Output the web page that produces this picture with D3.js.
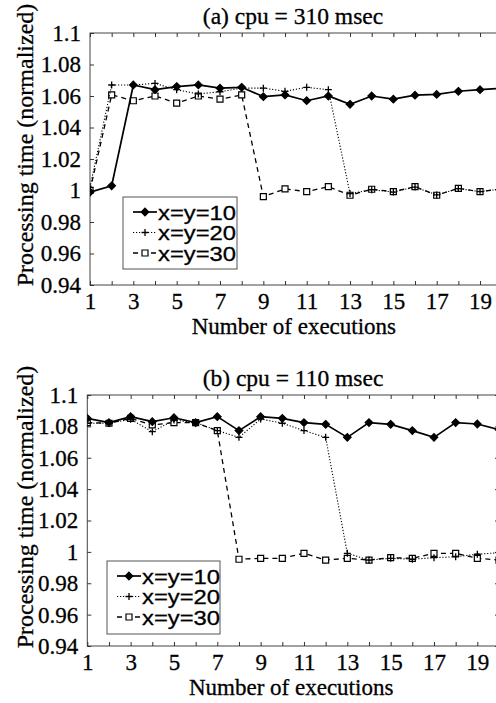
<!DOCTYPE html>
<html>
<head>
<meta charset="utf-8">
<script src="https://cdn.jsdelivr.net/npm/d3@7"></script>
<style>
  html, body { margin: 0; padding: 0; background: #fff; }
  svg { display: block; }
</style>
</head>
<body>
<div id="chart"></div>
<script>
// x axis: execution number
const executions = [1, 2, 3, 4, 5, 6, 7, 8, 9, 10, 11, 12, 13, 14, 15, 16, 17, 18, 19, 20];
const xTickLabels = ['1', '', '3', '', '5', '', '7', '', '9', '', '11', '', '13', '', '15', '', '17', '', '19', ''];
const yTicks = [0.94, 0.96, 0.98, 1, 1.02, 1.04, 1.06, 1.08, 1.1];
const yTickLabels = ['0.94', '0.96', '0.98', '1', '1.02', '1.04', '1.06', '1.08', '1.1'];
const seriesNames = ['x=y=10', 'x=y=20', 'x=y=30'];

// (a) cpu = 310 msec
const cpu310_xy10 = [0.999, 1.003, 1.067, 1.064, 1.066, 1.067, 1.065, 1.0655, 1.0596, 1.0607, 1.057, 1.060, 1.0547, 1.060, 1.058, 1.0605, 1.061, 1.063, 1.064, 1.065];
const cpu310_xy20 = [1.002, 1.067, 1.067, 1.068, 1.064, 1.0613, 1.0627, 1.065, 1.065, 1.063, 1.0655, 1.064, 0.998, 1.0005, 0.999, 1.0022, 0.9972, 1.0012, 0.9993, 1.001];
const cpu310_xy30 = [1.000, 1.0607, 1.057, 1.060, 1.0555, 1.060, 1.058, 1.0607, 0.9961, 1.001, 0.9993, 1.0024, 0.997, 1.0008, 0.9993, 1.0024, 0.997, 1.0014, 0.9993, 1.001];

// (b) cpu = 110 msec
const cpu110_xy10 = [1.0851, 1.0824, 1.0862, 1.083, 1.0855, 1.0824, 1.0862, 1.0773, 1.0862, 1.0851, 1.0824, 1.0813, 1.073, 1.0824, 1.0813, 1.0773, 1.073, 1.0824, 1.0815, 1.078];
const cpu110_xy20 = [1.082, 1.082, 1.0845, 1.0766, 1.084, 1.0824, 1.0773, 1.073, 1.0847, 1.082, 1.0773, 1.073, 0.9991, 0.9948, 0.9959, 0.9953, 0.9963, 0.9969, 0.9985, 0.9995];
const cpu110_xy30 = [1.0824, 1.082, 1.0851, 1.0809, 1.0824, 1.0824, 1.0773, 0.9953, 0.9959, 0.9959, 0.9991, 0.9948, 0.9959, 0.9948, 0.9963, 0.9959, 0.9991, 0.9991, 0.9959, 0.9948];

const width = 496;
const height = 703;
const serif = '"Liberation Serif", "Times New Roman", serif';
const sans = '"Liberation Sans", Arial, sans-serif';

// line and marker style per series
const styles = [
  { dash: null, width: 1.7, marker: 'diamond' },
  { dash: '1.2,1.8', width: 1.1, marker: 'plus' },
  { dash: '5,4', width: 1.3, marker: 'square' },
];

const markerPath = {
  diamond: 'M0,-3.8L3.8,0L0,3.8L-3.8,0Z',
  plus: 'M-3.5,0H3.5M0,-3.5V3.5',
  square: 'M-3,-3H3V3H-3Z',
};

const drawMarker = (sel, kind) => {
  sel
    .append('path')
    .attr('d', markerPath[kind])
    .attr('fill', kind === 'diamond' ? '#000' : kind === 'square' ? '#fff' : 'none')
    .attr('stroke', '#000')
    .attr('stroke-width', kind === 'plus' ? 1.3 : 1.2);
};

// scanned print looks a little heavier than plain vector text
const inked = (sel) => sel.attr('stroke', '#000').attr('stroke-width', 0.3);

const svg = d3
  .select('#chart')
  .append('svg')
  .attr('width', width)
  .attr('height', height);

const panels = [
  {
    title: '(a) cpu = 310 msec',
    series: [cpu310_xy10, cpu310_xy20, cpu310_xy30],
    left: 90, right: 501.7, top: 33, bottom: 285,
    legend: { x: 123, y: 197, w: 114, h: 72, line: 133 },
  },
  {
    title: '(b) cpu = 110 msec',
    series: [cpu110_xy10, cpu110_xy20, cpu110_xy30],
    left: 87.3, right: 499, top: 395, bottom: 646,
    legend: { x: 107, y: 561, w: 113, h: 73, line: 117 },
  },
];

panels.forEach((p, pi) => {
  const x = d3.scaleLinear().domain([1, 20]).range([p.left, p.right]);
  const y = d3.scaleLinear().domain([0.94, 1.1]).range([p.bottom, p.top]);
  const g = svg.append('g').attr('class', 'panel');

  const clipId = `clip${pi}`;
  g.append('clipPath')
    .attr('id', clipId)
    .append('rect')
    .attr('x', p.left)
    .attr('y', p.top - 6)
    .attr('width', p.right - p.left)
    .attr('height', p.bottom - p.top + 12);

  // frame
  g.append('rect')
    .attr('x', p.left)
    .attr('y', p.top)
    .attr('width', p.right - p.left)
    .attr('height', p.bottom - p.top)
    .attr('fill', 'none')
    .attr('stroke', '#444')
    .attr('stroke-width', 1);

  // axes, ticks pointing inward
  const xAxis = d3
    .axisBottom(x)
    .tickValues(executions)
    .tickSize(-4)
    .tickPadding(8)
    .tickFormat((d, i) => xTickLabels[i]);
  g.append('g')
    .attr('transform', `translate(0,${p.bottom})`)
    .call(xAxis)
    .call((a) => a.select('.domain').remove())
    .call((a) =>
      a.selectAll('text')
        .attr('font-family', serif)
        .attr('font-size', 23)
        .attr('fill', '#000')
        .attr('dy', '0.71em')
        .call(inked),
    );

  g.append('g')
    .attr('transform', `translate(0,${p.top})`)
    .call(d3.axisTop(x).tickValues(executions).tickSize(-4).tickFormat(''))
    .call((a) => a.select('.domain').remove());

  const yAxis = d3
    .axisLeft(y)
    .tickValues(yTicks)
    .tickSize(-4)
    .tickPadding(9)
    .tickFormat((d, i) => yTickLabels[i]);
  g.append('g')
    .attr('transform', `translate(${p.left},0)`)
    .call(yAxis)
    .call((a) => a.select('.domain').remove())
    .call((a) =>
      a.selectAll('text')
        .attr('font-family', serif)
        .attr('font-size', 23)
        .attr('fill', '#000')
        .call(inked),
    );

  g.append('g')
    .attr('transform', `translate(${p.right},0)`)
    .call(d3.axisRight(y).tickValues(yTicks).tickSize(-4).tickFormat(''))
    .call((a) => a.select('.domain').remove());

  g.selectAll('.tick line').attr('stroke', '#333');

  // data lines, drawn x=y=30 first so x=y=10 sits on top
  const plot = g.append('g').attr('clip-path', `url(#${clipId})`);
  const line = d3
    .line()
    .x((d, i) => x(executions[i]))
    .y((d) => y(d));

  [2, 1, 0].forEach((si) => {
    const st = styles[si];
    const values = p.series[si];
    plot
      .append('path')
      .datum(values)
      .attr('d', line)
      .attr('fill', 'none')
      .attr('stroke', '#000')
      .attr('stroke-width', st.width)
      .attr('stroke-dasharray', st.dash);

    plot
      .selectAll(null)
      .data(values)
      .enter()
      .append('g')
      .attr('transform', (d, i) => `translate(${x(executions[i])},${y(d)})`)
      .each(function () {
        drawMarker(d3.select(this), st.marker);
      });
  });

  // titles
  g.append('text')
    .attr('x', 293)
    .attr('y', p.top - 9)
    .attr('text-anchor', 'middle')
    .attr('font-family', serif)
    .attr('font-size', 23.5)
    .call(inked)
    .text(p.title);

  g.append('text')
    .attr('x', (p.left + p.right) / 2 - 2)
    .attr('y', p.bottom + 49)
    .attr('text-anchor', 'middle')
    .attr('font-family', serif)
    .attr('font-size', 23)
    .call(inked)
    .text('Number of executions');

  g.append('text')
    .attr('transform', `translate(33,${p.top + 112}) rotate(-90)`)
    .attr('text-anchor', 'middle')
    .attr('font-family', serif)
    .attr('font-size', 24)
    .call(inked)
    .text('Processing time (normalized)');

  // legend
  const L = p.legend;
  const lg = g.append('g');
  lg.append('rect')
    .attr('x', L.x)
    .attr('y', L.y)
    .attr('width', L.w)
    .attr('height', L.h)
    .attr('fill', '#fff')
    .attr('stroke', '#555')
    .attr('stroke-width', 1);

  seriesNames.forEach((name, si) => {
    const st = styles[si];
    const cy = L.y + 15 + si * 20.5;
    lg.append('line')
      .attr('x1', L.line)
      .attr('x2', L.line + 24)
      .attr('y1', cy)
      .attr('y2', cy)
      .attr('stroke', '#000')
      .attr('stroke-width', st.width)
      .attr('stroke-dasharray', st.dash);
    drawMarker(
      lg.append('g').attr('transform', `translate(${L.line + 12},${cy})`),
      st.marker,
    );
    lg.append('text')
      .attr('x', L.line + 25)
      .attr('y', cy + 7.5)
      .attr('font-family', sans)
      .attr('font-size', 20)
      .attr('textLength', 78)
      .attr('lengthAdjust', 'spacingAndGlyphs')
      .call(inked)
      .text(name);
  });
});
</script>
</body>
</html>
